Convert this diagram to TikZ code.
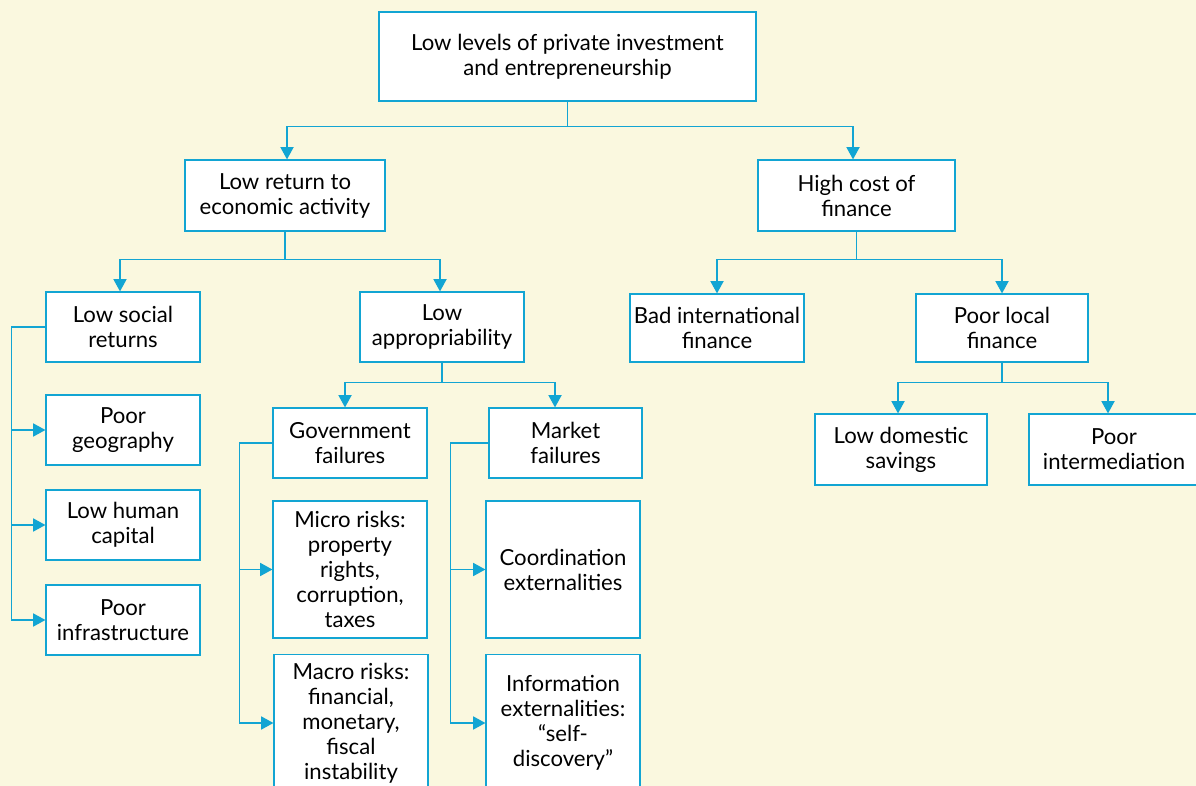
\documentclass[tikz,border=0pt]{standalone}
\usepackage{fontspec}
\setmainfont{Lato}
\usetikzlibrary{arrows.meta}
\definecolor{bgcream}{HTML}{FAF8DF}
\definecolor{linkblue}{HTML}{12A5D3}
\begin{document}
\begin{tikzpicture}[
    x=0.02cm, y=-0.02cm,
    causebox/.style={rectangle, draw=linkblue, fill=white, line width=0.7pt, align=center, inner sep=2pt, font=\fontsize{12.6}{14.2}\selectfont},
    causearr/.style={draw=linkblue, line width=0.7pt, -{Triangle[length=7pt, width=7.5pt]}},
    causeline/.style={draw=linkblue, line width=0.7pt}
]
\useasboundingbox[fill=bgcream] (0,0) rectangle (1196,786);

% Top level
\node[causebox, minimum width=7.54cm, minimum height=1.78cm] (top) at (567.5,56.5) {Low levels of private investment\\and entrepreneurship};

% Second level
\node[causebox, minimum width=4.0cm, minimum height=1.42cm] (ret) at (285,195.5) {Low return to\\economic activity};
\node[causebox, minimum width=3.94cm, minimum height=1.42cm] (cost) at (856.5,195.5) {High cost of\\finance};

% Third level
\node[causebox, minimum width=3.08cm, minimum height=1.4cm] (social) at (123,327) {Low social\\returns};
\node[causebox, minimum width=3.28cm, minimum height=1.4cm] (approp) at (442,327) {Low\\appropriability};
\node[causebox, minimum width=3.48cm, minimum height=1.36cm] (badint) at (717,328) {Bad international\\finance};
\node[causebox, minimum width=3.44cm, minimum height=1.36cm] (local) at (1002,328) {Poor local\\finance};

% Social returns branch
\node[causebox, minimum width=3.08cm, minimum height=1.4cm] (geog) at (123,430) {Poor\\geography};
\node[causebox, minimum width=3.08cm, minimum height=1.4cm] (human) at (123,525) {Low human\\capital};
\node[causebox, minimum width=3.08cm, minimum height=1.4cm] (infra) at (123,620) {Poor\\infrastructure};

% Appropriability branch
\node[causebox, minimum width=3.08cm, minimum height=1.4cm] (gov) at (350,443) {Government\\failures};
\node[causebox, minimum width=3.06cm, minimum height=1.4cm] (market) at (565.5,443) {Market\\failures};
\node[causebox, minimum width=3.08cm, minimum height=2.74cm] (micro) at (350,569.5) {Micro risks:\\property\\rights,\\corruption,\\taxes};
\node[causebox, minimum width=3.08cm, minimum height=2.74cm] (macro) at (351,723) {Macro risks:\\financial,\\monetary,\\fiscal\\instability};
\node[causebox, minimum width=3.08cm, minimum height=2.74cm] (coord) at (563,569.5) {Coordination\\externalities};
\node[causebox, minimum width=3.08cm, minimum height=2.74cm] (info) at (563,723) {Information\\externalities:\\“self-\\discovery”};

% Local finance branch
\node[causebox, minimum width=3.44cm, minimum height=1.42cm] (lowdom) at (901,449.5) {Low domestic\\savings};
\node[causebox, minimum width=3.4cm, minimum height=1.42cm] (poorint) at (1114,449.5) {Poor\\intermediation};

% Tree connectors
\draw[causeline] (top.south) -- ++(0,25);
\draw[causearr] (top.south) ++(0,25) -| ([xshift=0.04cm]ret.north);
\draw[causearr] (top.south) ++(0,25) -| ([xshift=-0.07cm]cost.north);
\draw[causeline] (ret.south) -- ++(0,28);
\draw[causearr] (ret.south) ++(0,28) -| ([xshift=-0.06cm]social.north);
\draw[causearr] (ret.south) ++(0,28) -| ([xshift=-0.04cm]approp.north);
\draw[causeline] (cost.south) -- ++(0,28);
\draw[causearr] (cost.south) ++(0,28) -| (badint.north);
\draw[causearr] (cost.south) ++(0,28) -| (local.north);
\draw[causeline] (approp.south) -- ++(0,20);
\draw[causearr] (approp.south) ++(0,20) -| ([xshift=-0.1cm]gov.north);
\draw[causearr] (approp.south) ++(0,20) -| ([xshift=-0.21cm]market.north);
\draw[causeline] (local.south) -- ++(0,20);
\draw[causearr] (local.south) ++(0,20) -| ([xshift=-0.06cm]lowdom.north);
\draw[causearr] (local.south) ++(0,20) -| ([xshift=-0.12cm]poorint.north);

% Side connectors
\foreach \kid in {geog, human, infra}
  \draw[causearr] (social.west) -- ++(-34,0) |- (\kid.west);
\foreach \kid in {micro, macro}
  \draw[causearr] (gov.west) -- ++(-33,0) |- (\kid.west);
\foreach \kid in {coord, info}
  \draw[causearr] (market.west) -- ++(-38,0) |- (\kid.west);

\end{tikzpicture}
\end{document}
